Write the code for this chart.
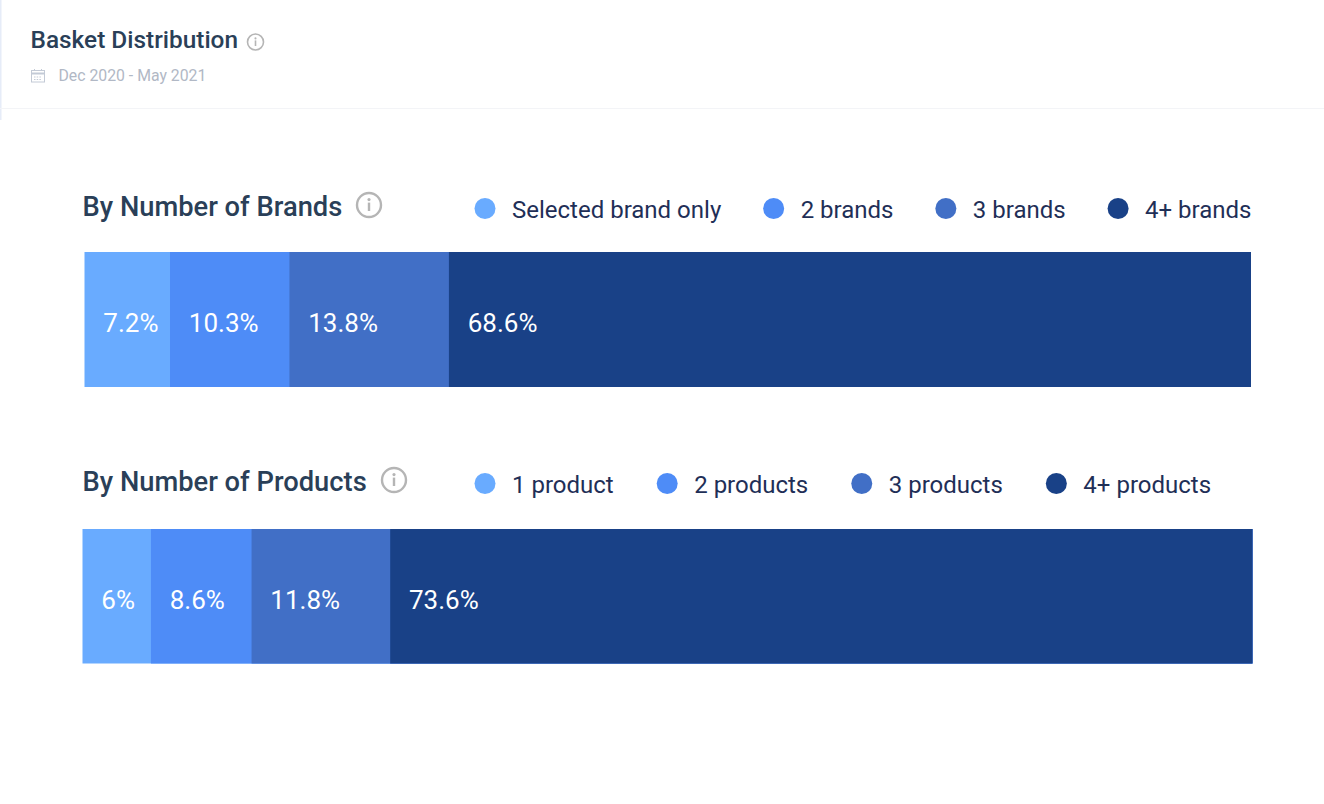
<!DOCTYPE html>
<html>
<head>
<meta charset="utf-8">
<script src="https://cdn.jsdelivr.net/npm/d3@7"></script>
<style>
  body { margin: 0; background: #fff; }
  text { font-family: Roboto, sans-serif; }
</style>
</head>
<body>
<script>
const width = 1324;
const height = 804;

const brandCategories = ["Selected brand only", "2 brands", "3 brands", "4+ brands"];
const brandValues = [7.33, 10.24, 13.67, 68.76];
const brandLabels = ["7.2%", "10.3%", "13.8%", "68.6%"];
const productCategories = ["1 product", "2 products", "3 products", "4+ products"];
const productValues = [5.85, 8.6, 11.85, 73.7];
const productLabels = ["6%", "8.6%", "11.8%", "73.6%"];
const colors = ["#69abff", "#4e8cf7", "#416fc6", "#194187"];

let svg = d3
  .select("body")
  .append("svg")
  .attr("width", width)
  .attr("height", height)
  .style("display", "block");

// page frame lines
svg.append("rect").attr("x", 0).attr("y", 0).attr("width", 1.5).attr("height", 120).attr("fill", "#e6ecf8");
svg.append("rect").attr("x", 0).attr("y", 108).attr("width", width).attr("height", 1).attr("fill", "#f3f4f7");

function infoIcon(cx, cy, r) {
  let g = svg.append("g").attr("transform", `translate(${cx}, ${cy})`);
  g.append("circle").attr("r", r).attr("fill", "none").attr("stroke", "#b5b5b5").attr("stroke-width", r / 5);
  g.append("rect").attr("x", -r * 0.1).attr("y", -r * 0.2).attr("width", r * 0.2).attr("height", r * 0.7).attr("fill", "#b5b5b5");
  g.append("circle").attr("cy", -r * 0.45).attr("r", r * 0.13).attr("fill", "#b5b5b5");
}

// header
svg.append("text")
  .attr("x", 30.5).attr("y", 48)
  .attr("font-size", 24.4).attr("font-weight", 500).attr("fill", "#2a3f58")
  .text("Basket Distribution");
infoIcon(255.5, 42, 8);

let cal = svg.append("g").attr("transform", "translate(31, 69)").attr("fill", "none").attr("stroke", "#c3cad6");
cal.append("rect").attr("x", 0.5).attr("y", 1.5).attr("width", 13).attr("height", 11.5);
cal.append("line").attr("x1", 0.5).attr("x2", 13.5).attr("y1", 4.5).attr("y2", 4.5).attr("stroke-width", 2);
cal.append("line").attr("x1", 3.5).attr("x2", 3.5).attr("y1", 0).attr("y2", 2);
cal.append("line").attr("x1", 10.5).attr("x2", 10.5).attr("y1", 0).attr("y2", 2);
cal.append("path").attr("d", "M3 8H11M3 10.5H11").attr("stroke-dasharray", "1.5 1.2");

svg.append("text")
  .attr("x", 58.5).attr("y", 81)
  .attr("font-size", 15.8).attr("fill", "#b1b8c5")
  .text("Dec 2020 - May 2021");

function drawPanel(opts) {
  // title
  svg.append("text")
    .attr("x", 82.5).attr("y", opts.titleY)
    .attr("font-size", 27.3).attr("font-weight", 500).attr("fill", "#2a3f58")
    .text(opts.title);
  infoIcon(opts.iconX, opts.titleY - 11, 12);

  // legend, flows from the left
  let legendX = 485;
  opts.categories.forEach((name, i) => {
    svg.append("circle")
      .attr("cx", legendX).attr("cy", opts.legendY)
      .attr("r", 10.5).attr("fill", colors[i]);
    let label = svg.append("text")
      .attr("x", legendX + 27).attr("y", opts.legendY + 9.5)
      .attr("font-size", 24).attr("fill", "#1f2f57")
      .text(name);
    legendX += 27 + label.node().getComputedTextLength() + opts.legendGap;
  });

  // stacked bar
  let stacked = d3.cumsum(opts.values);
  let total = d3.sum(opts.values);
  let xScale = d3
    .scaleLinear()
    .domain([0, total])
    .range(opts.range);

  let segments = opts.values.map((v, i) => ({ start: stacked[i] - v, label: opts.labels[i], i: i }));

  // each rect runs to the bar end and the next one paints over it, so no white seams
  svg.append("g")
    .selectAll("rect")
    .data(segments)
    .join("rect")
    .attr("x", (d) => xScale(d.start))
    .attr("y", opts.barY)
    .attr("width", (d) => xScale(total) - xScale(d.start))
    .attr("height", opts.barHeight)
    .attr("fill", (d) => colors[d.i]);

  svg.append("g")
    .selectAll("text")
    .data(segments)
    .join("text")
    .attr("x", (d) => xScale(d.start) + 18.8)
    .attr("y", opts.barY + 80)
    .attr("font-size", 26).attr("fill", "#fff")
    .text((d) => d.label);
}

drawPanel({
  title: "By Number of Brands", titleY: 216, iconX: 369, legendY: 208.5, legendGap: 52.4,
  categories: brandCategories, values: brandValues, labels: brandLabels,
  range: [84.5, 1251], barY: 252, barHeight: 135
});

drawPanel({
  title: "By Number of Products", titleY: 491, iconX: 394, legendY: 483.5, legendGap: 53.5,
  categories: productCategories, values: productValues, labels: productLabels,
  range: [82.5, 1252.5], barY: 529, barHeight: 134.5
});
</script>
</body>
</html>
